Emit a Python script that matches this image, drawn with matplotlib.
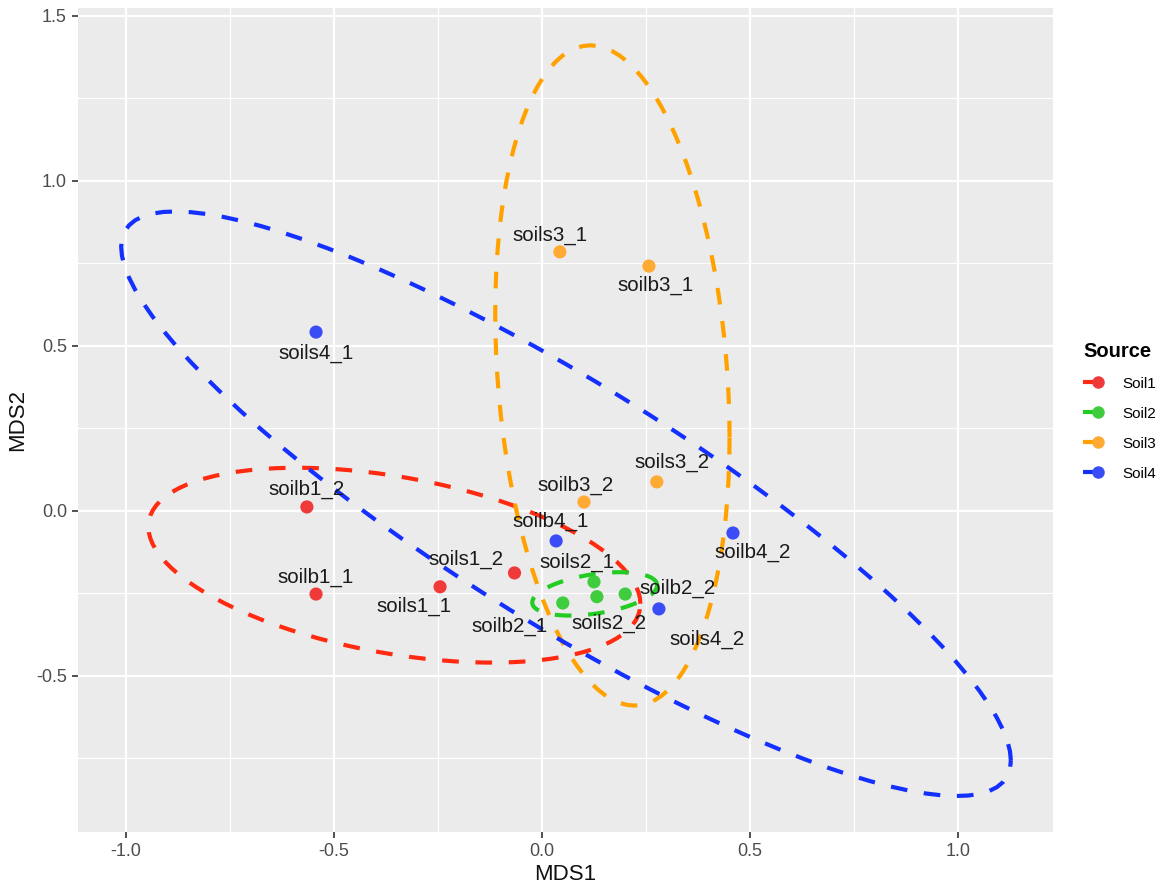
import matplotlib
matplotlib.use("Agg")
import matplotlib.pyplot as plt
from matplotlib.lines import Line2D
import numpy as np

# NMDS scores per sample
samples = ["soilb1_2", "soilb1_1", "soils1_1", "soils1_2",
           "soils2_1", "soilb2_1", "soils2_2", "soilb2_2",
           "soils3_1", "soilb3_1", "soilb3_2", "soils3_2",
           "soils4_1", "soilb4_1", "soilb4_2", "soils4_2"]
source = ["Soil1"] * 4 + ["Soil2"] * 4 + ["Soil3"] * 4 + ["Soil4"] * 4
mds1 = [-0.565, -0.543, -0.245, -0.066,
        0.125, 0.050, 0.132, 0.200,
        0.043, 0.257, 0.101, 0.276,
        -0.543, 0.034, 0.459, 0.281]
mds2 = [0.012, -0.252, -0.230, -0.188,
        -0.215, -0.279, -0.260, -0.252,
        0.785, 0.742, 0.027, 0.088,
        0.542, -0.091, -0.067, -0.297]

groups = ["Soil1", "Soil2", "Soil3", "Soil4"]
line_cols = {"Soil1": "#ff2a10", "Soil2": "#22cc22", "Soil3": "#ffa200", "Soil4": "#1430ff"}
pt_cols = {"Soil1": "#f03a3a", "Soil2": "#3fcc3f", "Soil3": "#ffaa33", "Soil4": "#3a4cf5"}

# label offsets (points) so names do not sit on the dots
lab_off = [(0, 13), (0, 12), (-19, -14), (-35, 10),
           (-12, 14), (-38, -17), (9, -19), (38, 4),
           (-7, 12), (5, -14), (-6, 12), (11, 14),
           (0, -15), (-4, 14), (14, -14), (35, -22)]


def cov_ellipse(pts, conf=0.95, npoints=100):
    # sd ellipse: sample covariance scaled by the chi-square quantile (2 df)
    center = pts.mean(axis=0)
    cov = np.cov(pts, rowvar=False)
    scale = np.sqrt(-2 * np.log(1 - conf))
    theta = np.linspace(0, 2 * np.pi, npoints + 1)
    circle = np.column_stack([np.cos(theta), np.sin(theta)])
    L = np.linalg.cholesky(cov)
    return center + scale * circle @ L.T


plt.rcParams['font.family'] = ['Liberation Sans', 'DejaVu Sans']
plt.rcParams['axes.unicode_minus'] = False

fig = plt.figure(figsize=(11.68, 8.94), dpi=100)
ax = fig.add_axes([0.0668, 0.0694, 0.8347, 0.9216])
ax.set_facecolor("#ebebeb")

x = np.array(mds1)
y = np.array(mds2)
src = np.array(source)

for g in groups:
    m = src == g
    e = cov_ellipse(np.column_stack([x[m], y[m]]))
    ax.plot(e[:, 0], e[:, 1], color=line_cols[g], lw=3.0, dashes=(4.0, 4.0), zorder=3)
    ax.scatter(x[m], y[m], s=90, color=pt_cols[g], edgecolors="none", zorder=4)

for i, name in enumerate(samples):
    ax.annotate(name, (mds1[i], mds2[i]), xytext=lab_off[i], textcoords="offset points",
                ha="center", va="center", fontsize=14.8, color="#1a1a1a", zorder=5)

ax.set_xlim(-1.115, 1.228)
ax.set_ylim(-0.973, 1.524)
ax.set_xticks([-1.0, -0.5, 0.0, 0.5, 1.0])
ax.set_yticks([-0.5, 0.0, 0.5, 1.0, 1.5])
ax.set_xticks([-0.75, -0.25, 0.25, 0.75], minor=True)
ax.set_yticks([-0.75, -0.25, 0.25, 0.75, 1.25], minor=True)
ax.grid(which="major", color="white", lw=1.6)
ax.grid(which="minor", color="white", lw=0.8)
ax.set_axisbelow(True)
for s in ax.spines.values():
    s.set_visible(False)
ax.tick_params(which="major", length=4, width=1.2, color="#333333", labelsize=13, labelcolor="#4d4d4d", pad=4)
ax.tick_params(which="minor", length=0)
ax.set_xlabel("MDS1", fontsize=16, color="#111111", labelpad=3)
ax.set_ylabel("MDS2", fontsize=16, color="#111111", labelpad=6)

handles = [Line2D([0], [0], color=line_cols[g], lw=3.0, marker="o", markersize=9,
                  markerfacecolor=pt_cols[g], markeredgecolor="none", dashes=(3.2, 12))
           for g in groups]
leg = ax.legend(handles, groups, title="Source", loc="center left",
                bbox_to_anchor=(0.922, 0.54), bbox_transform=fig.transFigure,
                frameon=False, fontsize=11, handlelength=1.9, labelspacing=1.05,
                handletextpad=0.7, alignment="left", borderaxespad=0)
leg.get_title().set_fontsize(14.5)
leg.get_title().set_fontweight("bold")

fig.savefig("out.png", dpi=100)
